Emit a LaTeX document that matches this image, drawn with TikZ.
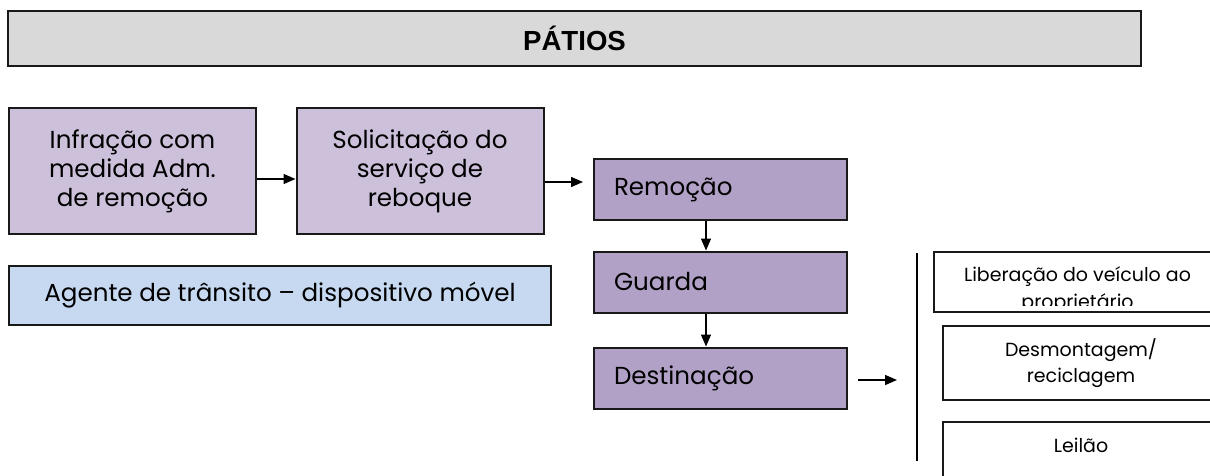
\documentclass[tikz,border=0pt]{standalone}
\usepackage{fontspec}
\setmainfont{Poppins}
\newfontfamily\headfont{Liberation Sans}
\usetikzlibrary{arrows.meta}
\definecolor{lilac}{HTML}{CCC0DA}
\definecolor{plum}{HTML}{B2A1C7}
\definecolor{skyblue}{HTML}{C6D9F1}
\definecolor{barfill}{HTML}{D9D9D9}
\newcommand{\boxfont}{\fontsize{12.3}{14.5}\selectfont}
\newcommand{\outfont}{\fontsize{9.5}{13.2}\selectfont}

\begin{document}
\begin{tikzpicture}[x=0.5pt,y=-0.5pt,
  frame/.style={draw=black!90,line width=1pt,inner sep=0pt},
  stagebox/.style={frame,fill=lilac,align=center,font=\boxfont,
    minimum width=123.5pt,minimum height=63pt},
  phasebox/.style={frame,fill=plum,font=\boxfont,align=left,
    text width=106.5pt,inner xsep=10pt,minimum height=30.5pt},
  outbox/.style={frame,fill=white,minimum width=138pt,minimum height=37pt},
  outtext/.style={align=center,font=\outfont,inner sep=0pt},
  flow/.style={-{Triangle[length=6pt,width=5pt]},line width=0.7pt}]
  \useasboundingbox (0,0) rectangle (1210,476);

  \node[frame,fill=barfill,minimum width=566.5pt,minimum height=27.5pt,
    font=\headfont\bfseries\fontsize{13.8}{16}\selectfont] (title) at (574.5,38.5) {PÁTIOS};

  \node[stagebox] (infr) at (132.5,171) {Infração com\\medida Adm.\\de remoção};
  \node[stagebox] (solic) at (420,171) {Solicitação do\\serviço de\\reboque};
  \node[frame,fill=skyblue,minimum width=271pt,minimum height=29.5pt,font=\boxfont]
    (agent) at (280,295.5) {Agente de trânsito – dispositivo móvel};

  \node[phasebox] (rem) at (720.5,189.5) {Remoção};
  \node[phasebox] (guard) at (720.5,282) {Guarda};
  \node[phasebox] (dest) at (720.5,378) {Destinação};

  \draw[flow] ([yshift=-4pt]infr.east) -- ([yshift=-4pt]solic.west);
  \draw[flow,shorten >=5pt] ([yshift=-5.5pt]solic.east) -- ([yshift=-5.5pt]solic.east -| rem.west);
  \draw[flow] ([xshift=-7.25pt]rem.south) -- ([xshift=-7.25pt]guard.north);
  \draw[flow] ([xshift=-7.25pt]guard.south) -- ([xshift=-7.25pt]dest.north);

  \coordinate (railtop) at (917,253);
  \coordinate (railbot) at (917,461);
  \draw[line width=0.7pt] (railtop) -- (railbot);
  \draw[flow,shorten <=5pt,shorten >=10pt] ([yshift=-1pt]dest.east) -- ([yshift=-1pt]dest.east -| railtop);

  \node[outbox,minimum width=143.5pt,minimum height=30pt] (release) at (1077.5,282) {};
  \begin{scope}
    \clip ([yshift=4pt]release.south west) rectangle (release.north east);
    \node[outtext] (releasetxt) at (1077.5,290) {Liberação do veículo ao\\proprietário};
  \end{scope}
  \node[outbox,outtext,draw=black!90,line width=1pt] (recycle) at (1081,363) {Desmontagem/\\reciclagem};
  \node[outbox] (auction) at (1081,459) {};
  \node[outtext] (auctiontxt) at (1081,445) {Leilão};
\end{tikzpicture}
\end{document}
